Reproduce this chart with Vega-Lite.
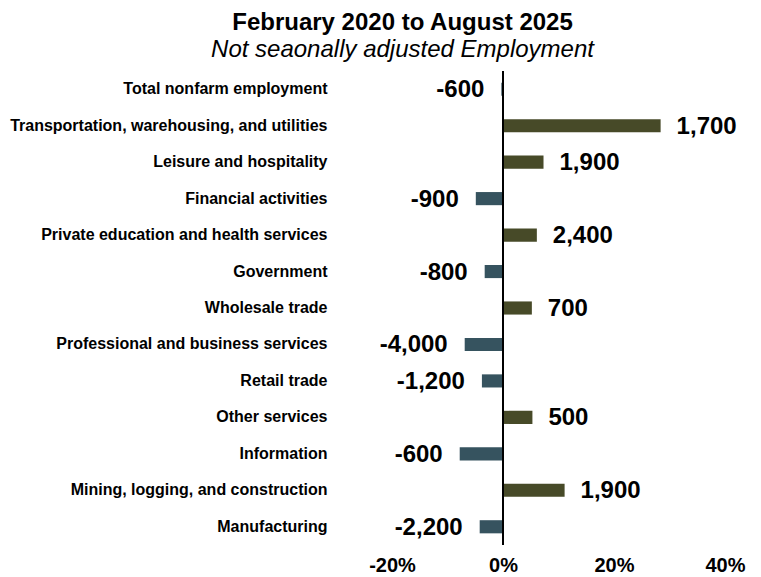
{
  "$schema": "https://vega.github.io/schema/vega-lite/v6.json",
  "autosize": "none",
  "padding": {"left": 392, "top": 71, "right": 36, "bottom": 32},
  "width": 333,
  "height": 474,
  "background": "white",
  "title": {
    "text": "February 2020 to August 2025",
    "subtitle": "Not seaonally adjusted Employment",
    "anchor": "middle",
    "frame": "group",
    "dx": -156,
    "offset": 8,
    "font": "Liberation Sans",
    "fontSize": 24,
    "fontWeight": "bold",
    "color": "black",
    "subtitleFont": "Liberation Sans",
    "subtitleFontSize": 24,
    "subtitleFontStyle": "italic",
    "subtitleFontWeight": "normal",
    "subtitleColor": "black",
    "subtitlePadding": 3
  },
  "config": {"view": {"stroke": null}, "font": "Liberation Sans"},
  "data": {
    "values": [
      {"industry": "Total nonfarm employment", "pct": -0.3, "label": "-600"},
      {"industry": "Transportation, warehousing, and utilities", "pct": 28.4, "label": "1,700"},
      {"industry": "Leisure and hospitality", "pct": 7.3, "label": "1,900"},
      {"industry": "Financial activities", "pct": -4.9, "label": "-900"},
      {"industry": "Private education and health services", "pct": 6.1, "label": "2,400"},
      {"industry": "Government", "pct": -3.3, "label": "-800"},
      {"industry": "Wholesale trade", "pct": 5.2, "label": "700"},
      {"industry": "Professional and business services", "pct": -6.9, "label": "-4,000"},
      {"industry": "Retail trade", "pct": -3.8, "label": "-1,200"},
      {"industry": "Other services", "pct": 5.3, "label": "500"},
      {"industry": "Information", "pct": -7.8, "label": "-600"},
      {"industry": "Mining, logging, and construction", "pct": 11.1, "label": "1,900"},
      {"industry": "Manufacturing", "pct": -4.2, "label": "-2,200"}
    ]
  },
  "encoding": {
    "y": {
      "field": "industry",
      "type": "nominal",
      "sort": null,
      "title": null,
      "scale": {"paddingInner": 0.64, "paddingOuter": 0.32},
      "axis": {
        "ticks": false,
        "domain": false,
        "labelPadding": 65,
        "labelFont": "Liberation Sans",
        "labelFontSize": 16,
        "labelFontWeight": "bold",
        "labelColor": "black",
        "labelLimit": 400
      }
    },
    "x": {
      "field": "pct",
      "type": "quantitative",
      "title": null,
      "scale": {"domain": [-20, 40], "nice": false, "zero": false},
      "axis": {
        "values": [-20, 0, 20, 40],
        "labelExpr": "datum.value + '%'",
        "grid": false,
        "ticks": false,
        "domain": false,
        "labelPadding": 10,
        "labelFont": "Liberation Sans",
        "labelFontSize": 20,
        "labelFontWeight": "bold",
        "labelColor": "black",
        "labelFlush": false
      }
    }
  },
  "layer": [
    {
      "mark": {"type": "bar"},
      "encoding": {
        "color": {
          "condition": {"test": "datum.pct < 0", "value": "#36535f"},
          "value": "#474a28"
        }
      }
    },
    {
      "transform": [{"filter": "datum.pct >= 0"}],
      "mark": {"type": "text", "align": "left", "baseline": "middle", "dx": 16, "dy": 1, "fontSize": 24, "fontWeight": "bold", "font": "Liberation Sans", "color": "black"},
      "encoding": {"text": {"field": "label"}}
    },
    {
      "transform": [{"filter": "datum.pct < 0"}],
      "mark": {"type": "text", "align": "right", "baseline": "middle", "dx": -17, "dy": 1, "fontSize": 24, "fontWeight": "bold", "font": "Liberation Sans", "color": "black"},
      "encoding": {"text": {"field": "label"}}
    },
    {
      "data": {"values": [{"zero": 0}]},
      "mark": {"type": "rule", "color": "black", "strokeWidth": 2},
      "encoding": {"x": {"field": "zero", "type": "quantitative"}, "y": null}
    }
  ]
}
